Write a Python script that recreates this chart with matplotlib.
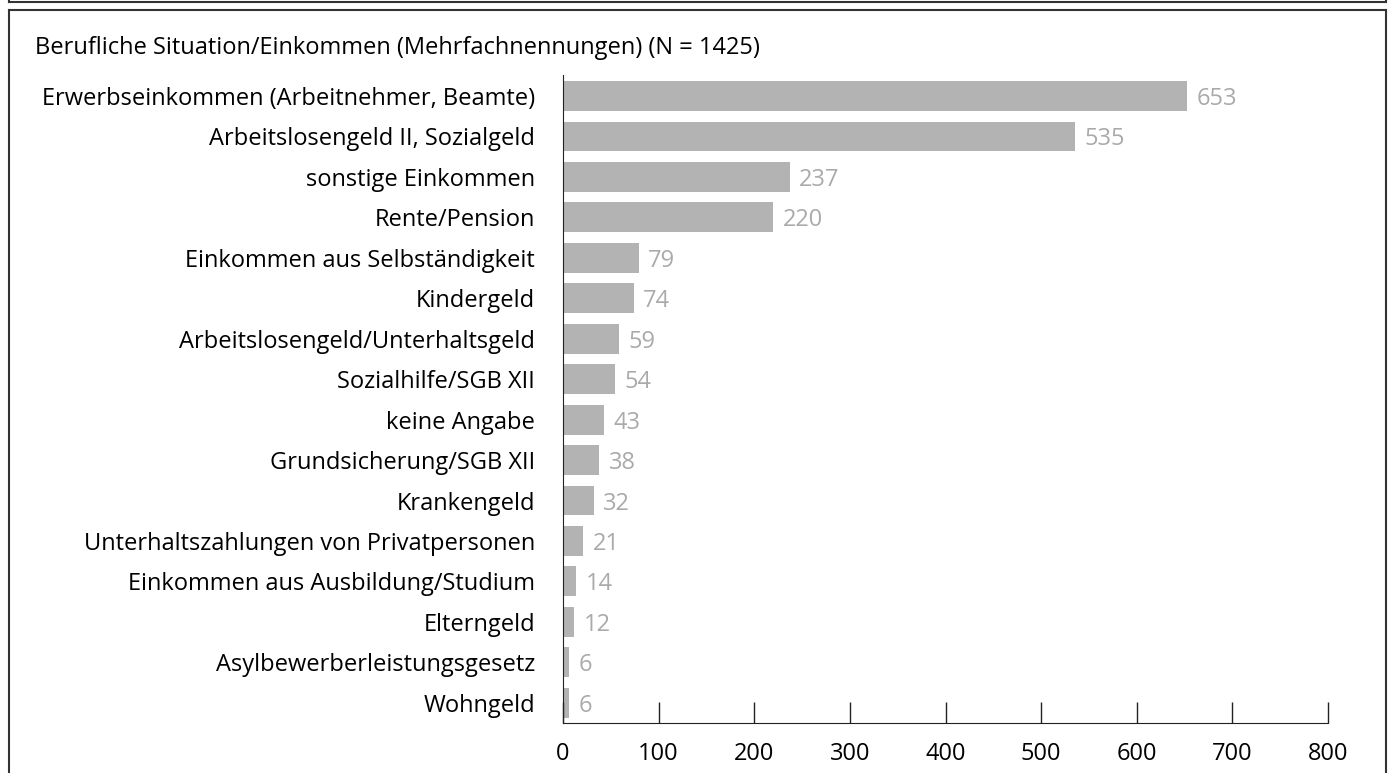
import matplotlib.pyplot as plt
from matplotlib.lines import Line2D

plt.rcParams['font.family'] = ['Open Sans', 'DejaVu Sans']

categories = [
    "Erwerbseinkommen (Arbeitnehmer, Beamte)",
    "Arbeitslosengeld II, Sozialgeld",
    "sonstige Einkommen",
    "Rente/Pension",
    "Einkommen aus Selbständigkeit",
    "Kindergeld",
    "Arbeitslosengeld/Unterhaltsgeld",
    "Sozialhilfe/SGB XII",
    "keine Angabe",
    "Grundsicherung/SGB XII",
    "Krankengeld",
    "Unterhaltszahlungen von Privatpersonen",
    "Einkommen aus Ausbildung/Studium",
    "Elterngeld",
    "Asylbewerberleistungsgesetz",
    "Wohngeld",
]
counts = [653, 535, 237, 220, 79, 74, 59, 54, 43, 38, 32, 21, 14, 12, 6, 6]
xticks = [0, 100, 200, 300, 400, 500, 600, 700, 800]

FS = 17
W, H = 1389, 773
fig = plt.figure(figsize=(W / 100, H / 100), dpi=100)
ax = fig.add_axes([563 / W, 1 - 723 / H, (1328 - 563) / W, (723 - 75) / H])

pos = list(range(len(categories)))
ax.barh(pos, counts, height=0.74, color="#b3b3b3")
for y, v in zip(pos, counts):
    ax.text(v + 10, y, str(v), va="center_baseline", ha="left", fontsize=FS, color="#aaaaaa")

ax.set_ylim(15.5, -0.52)
ax.set_xlim(0, 800)
ax.set_yticks(pos)
ax.set_yticklabels(categories, fontsize=FS)
ax.tick_params(axis="y", length=0, pad=20)
ax.set_xticks(xticks)
ax.set_xticklabels([str(t) for t in xticks], fontsize=FS)
ax.tick_params(axis="x", direction="in", length=15, width=1, color="#222222", pad=14)
for s in ["top", "right"]:
    ax.spines[s].set_visible(False)
ax.spines["left"].set_color("#222222")
ax.spines["bottom"].set_color("#222222")

fig.text(35 / W, 1 - 48 / H, "Berufliche Situation/Einkommen (Mehrfachnennungen) (N = 1425)",
         fontsize=FS, va="center", ha="left")

# frame lines
lc = "#333333"
def fl(x0, y0, x1, y1):
    fig.add_artist(Line2D([x0 / W, x1 / W], [1 - y0 / H, 1 - y1 / H],
                          color=lc, lw=1.5, transform=fig.transFigure))
fl(9, 2, 1386, 2)
fl(9, 10, 1386, 10)
fl(9, 10, 9, 773)
fl(1386, 10, 1386, 773)
fl(9, 0, 9, 2)
fl(1386, 0, 1386, 2)

fig.savefig("out.png", dpi=100)
